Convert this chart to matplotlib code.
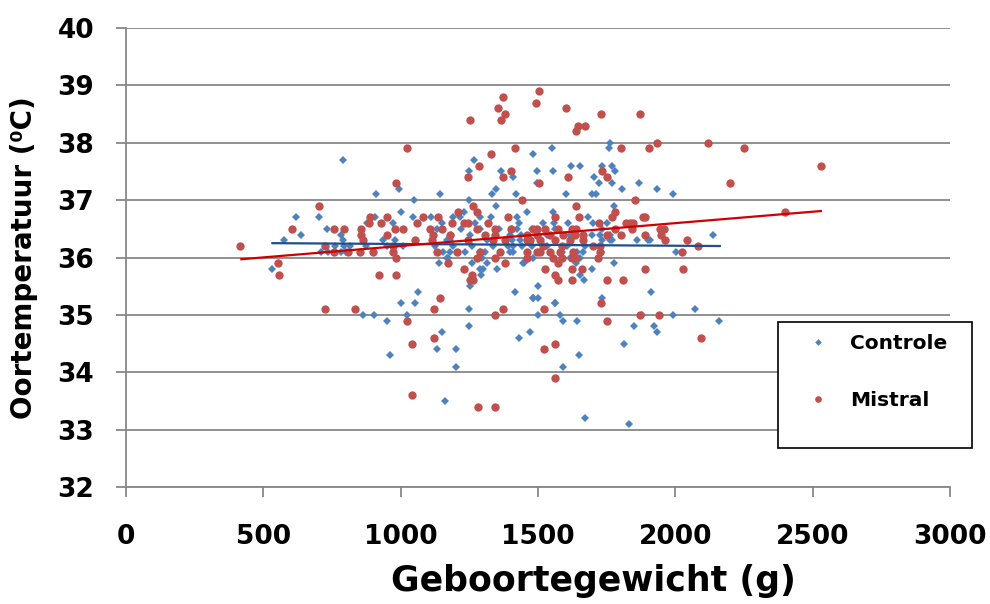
import matplotlib
matplotlib.use("Agg")
import matplotlib.pyplot as plt

# --- data (birth weight in g, ear temperature in degC) ---
controle_x = [
    533, 574, 620, 638, 701, 730, 709, 734, 790, 783, 789, 760, 795, 815, 783, 800,
    876, 906, 911, 872, 862, 902, 952, 961, 1001, 1051, 1023, 1062, 1050, 1142,
    1002, 994, 1044, 1110, 1190, 1141, 1171, 1266, 1247, 1250, 1261, 1251, 1250,
    1250, 1131, 1151, 1201, 1201, 1162, 1432, 1471, 1501, 1562, 1581, 1591, 1641,
    1650, 1591, 1671, 1831, 1812, 1850, 1922, 1932, 1880, 1991, 2071, 2160, 1482,
    1932, 1990, 2138, 2002, 1907, 1911, 1763, 1757, 1552, 1483, 1367, 1410, 1495,
    1553, 1621, 1652, 1733, 1768, 1781, 1768, 1722, 1704, 1867, 1806, 1331, 1347,
    1421, 1603, 1697, 1711, 1495, 1346, 1461, 1776, 1553, 1418, 1501, 1483, 1501,
    1561, 1732, 1653, 1667, 1775, 1665, 1291, 1301, 1349, 1450, 1862, 1901, 1637,
    1697, 1637,
    1216, 1289, 1422, 973, 1149, 1131, 1219, 1289, 1357, 1422, 1477, 1183, 1252,
    1398, 1437, 937, 979, 1167, 1313, 1404, 949, 1010, 1125, 1192, 1258, 1337,
    1392, 1440, 1477, 1155, 1234, 1307, 1410, 1167, 1295, 1446, 1289, 1313,
    1519, 1558, 1610, 1683, 1701, 1750, 1732, 1562, 1532, 1616, 1695, 1762, 1732,
    1762, 1604, 1671, 1641, 1729, 1483, 1616, 1653,
    1230, 1329, 1432, 1270, 1404, 1725, 1179, 1434, 1725, 1768, 1531, 1410, 1179,
    1289, 1398, 1507, 1586,
]
controle_y = [
    35.8, 36.3, 36.7, 36.4, 36.7, 36.5, 36.1, 36.1, 37.7, 36.4, 36.3, 36.2, 36.2, 36.2, 36.1, 36.1,
    36.6, 36.7, 37.1, 36.2, 35.0, 35.0, 34.9, 34.3, 35.2, 35.2, 35.0, 35.4, 37.0, 37.1,
    36.8, 37.2, 36.7, 36.7, 36.7, 35.9, 36.0, 37.7, 37.5, 37.0, 35.9, 35.5, 35.1,
    34.8, 34.4, 34.7, 34.4, 34.1, 33.5, 34.6, 34.7, 35.0, 35.2, 35.0, 34.9, 34.9,
    34.3, 34.1, 33.2, 33.1, 34.5, 34.8, 34.8, 34.7, 35.0, 35.0, 35.1, 34.9, 35.3,
    37.2, 37.1, 36.4, 36.1, 36.3, 35.4, 38.0, 37.9, 37.9, 37.8, 37.5, 37.4, 37.5,
    37.5, 37.6, 37.6, 37.6, 37.6, 37.5, 37.3, 37.3, 37.4, 37.3, 37.2, 37.1, 37.2,
    37.1, 37.1, 37.1, 37.1, 37.3, 36.9, 36.8, 36.9, 36.8, 35.4, 35.5, 35.3, 35.3,
    35.2, 35.3, 35.7, 35.6, 35.9, 36.1, 35.7, 35.8, 35.8, 35.9, 36.3, 36.3, 35.9,
    35.8, 36.0,
    36.7, 36.7, 36.7, 36.6, 36.6, 36.5, 36.5, 36.5, 36.5, 36.5, 36.5, 36.4, 36.4,
    36.4, 36.4, 36.3, 36.3, 36.3, 36.3, 36.3, 36.2, 36.2, 36.2, 36.2, 36.2, 36.2,
    36.2, 36.2, 36.2, 36.1, 36.1, 36.1, 36.1, 36.0, 36.0, 35.9, 35.8, 35.9,
    36.6, 36.6, 36.6, 36.7, 36.6, 36.6, 36.5, 36.5, 36.4, 36.4, 36.4, 36.4, 36.3,
    36.3, 36.2, 36.2, 36.1, 36.1, 36.0, 36.0, 36.0,
    36.8, 36.7, 36.6, 36.6, 36.5, 36.4, 36.3, 36.3, 36.2, 36.3, 36.2, 36.2, 36.1,
    36.1, 36.1, 36.1, 36.1,
]

mistral_x = [
    415, 553, 556, 603, 703, 723, 758, 795, 758, 807, 852, 855, 855, 862, 883, 889,
    900, 922, 927, 952, 949, 723, 833, 1502, 1493, 1372, 1354, 1381, 1364, 1252,
    1603, 1728, 1872, 1644, 1672, 1638, 1932, 1905, 1801, 2120, 1024, 1415, 1329,
    1284, 1401, 1246, 1372, 1611, 1732, 1751, 1505, 983, 2251, 2530, 2200, 2399,
    1944, 1958, 1946, 1962, 2041, 2081, 2023, 2029, 1941, 2092, 1023, 1042, 1042,
    1122, 1122, 1143, 1281, 1342, 1342, 1372, 1522, 1522, 1562, 1562, 1730, 1751,
    1871, 1750, 1810, 1890, 1622, 1571, 1561, 1525, 1380, 1343, 1232, 1258, 1263,
    1252, 1173, 1622, 1662, 1638, 1719, 1571, 1443, 1640, 1853, 1392, 1264, 1210,
    1562, 1650, 1781, 1883, 1890,
    1277, 1082, 1137, 1058, 1186, 1232, 1246, 1319, 1107, 1152, 1279, 1343, 1400,
    1495, 979, 1007, 1119, 1179, 1307, 1343, 1459, 1113, 1052, 1246, 1337, 1380,
    1459, 973, 1131, 1204, 1289, 1361, 1459, 973, 983, 1277, 1459, 983,
    1770, 1722, 1822, 1834, 1846, 1483, 1525, 1574, 1622, 1638, 1780, 1841, 1495,
    1543, 1592, 1634, 1665, 1750, 1804, 1889, 1471, 1507, 1562, 1616, 1665, 1519,
    1586, 1701, 1725, 1495, 1507, 1543, 1580, 1628, 1725, 1555, 1586, 1622,
]
mistral_y = [
    36.2, 35.9, 35.7, 36.5, 36.9, 36.2, 36.5, 36.5, 36.1, 36.1, 36.1, 36.5, 36.4, 36.3, 36.6, 36.7,
    36.1, 35.7, 36.6, 36.7, 36.4, 35.1, 35.1, 38.9, 38.7, 38.8, 38.6, 38.5, 38.4, 38.4,
    38.6, 38.5, 38.5, 38.3, 38.3, 38.2, 38.0, 37.9, 37.9, 38.0, 37.9, 37.9, 37.8,
    37.6, 37.5, 37.4, 37.4, 37.4, 37.5, 37.4, 37.3, 37.3, 37.9, 37.6, 37.3, 36.8,
    36.5, 36.5, 36.4, 36.3, 36.3, 36.2, 36.1, 35.8, 35.0, 34.6, 34.9, 34.5, 33.6,
    35.1, 34.6, 35.3, 33.4, 33.4, 35.0, 35.1, 35.1, 34.4, 34.5, 33.9, 35.2, 34.9,
    35.0, 35.6, 35.6, 35.8, 35.6, 35.6, 35.7, 35.8, 35.9, 36.0, 35.8, 35.7, 35.6,
    35.6, 35.9, 35.8, 35.8, 36.0, 36.0, 35.9, 37.0, 36.9, 37.0, 36.7, 36.9, 36.8,
    36.7, 36.7, 36.8, 36.7, 36.7,
    36.8, 36.7, 36.7, 36.6, 36.6, 36.6, 36.6, 36.6, 36.5, 36.5, 36.5, 36.5, 36.5,
    36.5, 36.5, 36.5, 36.4, 36.4, 36.4, 36.4, 36.4, 36.3, 36.3, 36.3, 36.3, 36.3,
    36.3, 36.2, 36.1, 36.1, 36.1, 36.1, 36.1, 36.1, 36.0, 36.0, 36.0, 35.7,
    36.7, 36.6, 36.6, 36.6, 36.6, 36.5, 36.5, 36.5, 36.5, 36.5, 36.5, 36.5, 36.4,
    36.4, 36.4, 36.4, 36.4, 36.4, 36.4, 36.4, 36.3, 36.3, 36.3, 36.3, 36.3, 36.2,
    36.2, 36.2, 36.2, 36.1, 36.1, 36.1, 36.1, 36.1, 36.1, 36.0, 36.0, 36.0,
]

# linear trend lines as drawn in the reference (end points)
controle_trend_x = [533, 2162]
controle_trend_y = [36.25, 36.20]
mistral_trend_x = [420, 2530]
mistral_trend_y = [35.97, 36.81]

x_ticks = [0, 500, 1000, 1500, 2000, 2500, 3000]
y_ticks = [32, 33, 34, 35, 36, 37, 38, 39, 40]

BLUE = "#4F81BD"
RED = "#C0504D"
GRID = "#878787"
W, H = 990, 604  # figure size in pixels

fig = plt.figure(figsize=(W / 100, H / 100), dpi=100)
ax = fig.add_axes([126 / W, 1 - 487 / H, 824 / W, 459 / H])

ax.plot(controle_x, controle_y, linestyle="none", marker="D", markersize=4.2,
        color=BLUE, markeredgewidth=0, label="Controle", zorder=3)
ax.plot(mistral_x, mistral_y, linestyle="none", marker="o", markersize=6,
        color=RED, markeredgewidth=0, label="Mistral", zorder=4)
ax.plot(controle_trend_x, controle_trend_y, color="#1F4E8C", lw=1.6, zorder=5)
ax.plot(mistral_trend_x, mistral_trend_y, color="#D00000", lw=1.6, zorder=5)

ax.set_xlim(0, 3000)
ax.set_ylim(32, 40)
ax.set_xticks(x_ticks)
ax.set_yticks(y_ticks)
ax.grid(axis="y", color=GRID, lw=1.3)
ax.set_axisbelow(True)
for side in ("top", "right"):
    ax.spines[side].set_visible(False)
for side in ("left", "bottom"):
    ax.spines[side].set_color(GRID)
    ax.spines[side].set_linewidth(1.3)
ax.tick_params(axis="both", colors=GRID, direction="out", length=7, width=1.3,
               labelcolor="black", labelsize=19)
ax.tick_params(axis="y", pad=16)
ax.tick_params(axis="x", pad=20)
for lab in ax.get_xticklabels() + ax.get_yticklabels():
    lab.set_fontweight("bold")

ax.set_xlabel("Geboortegewicht (g)", fontsize=25, fontweight="bold")
ax.xaxis.set_label_coords((593 - 126) / 824, (487 - 564) / 459)
ax.set_ylabel("Oortemperatuur (\u2070C)", fontsize=20, fontweight="bold")
ax.yaxis.set_label_coords((38 - 126) / 824, 0.5)

# legend box (Excel style: extra room below the entries)
box = plt.Rectangle((778 / W, 1 - 448 / H), 194 / W, 126 / H, transform=fig.transFigure,
                    facecolor="white", edgecolor="black", lw=1.2, zorder=2)
fig.add_artist(box)
leg = fig.legend(loc="center left", bbox_to_anchor=(808 / W, 1 - 372 / H),
                 frameon=False, prop={"weight": "bold", "size": 14.5},
                 labelspacing=1.9, borderpad=0, borderaxespad=0,
                 handlelength=1.0, handletextpad=1.1, markerscale=0.8)
leg.set_zorder(6)

fig.savefig("out.png", dpi=100)
